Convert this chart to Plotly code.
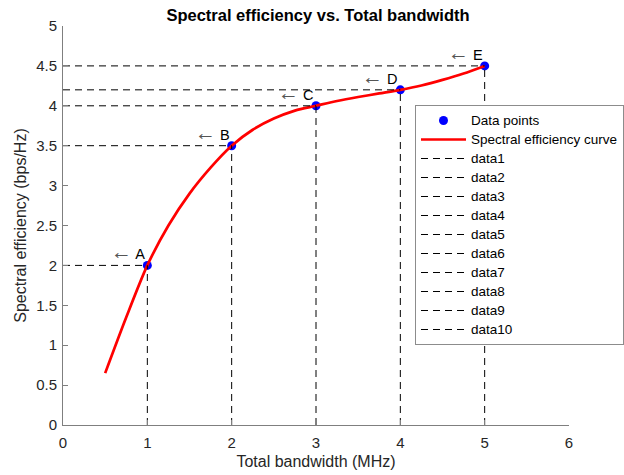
import plotly.graph_objects as go

# Data points
pt_x = [1, 2, 3, 4, 5]
pt_y = [2.0, 3.5, 4.0, 4.2, 4.5]
pt_labels = ["A", "B", "C", "D", "E"]

# Spectral efficiency curve
curve_x = [0.5, 0.75, 1.0, 1.25, 1.5, 1.75, 2.0, 2.25, 2.5, 2.75, 3.0,
           3.25, 3.5, 3.75, 4.0, 4.25, 4.5, 4.75, 5.0]
curve_y = [0.65, 1.35, 2.0, 2.5, 2.9, 3.225, 3.5, 3.7, 3.84, 3.94, 4.0,
           4.06, 4.11, 4.155, 4.2, 4.255, 4.325, 4.405, 4.5]

x_ticks = [0, 1, 2, 3, 4, 5, 6]
y_ticks = [0, 0.5, 1, 1.5, 2, 2.5, 3, 3.5, 4, 4.5, 5]

FONT = "Liberation Sans, Arial, Helvetica, sans-serif"
LEG_SIZE = 13.5


def leg(name):
    return f'<span style="font-size:{LEG_SIZE}px">{name}</span>'


fig = go.Figure()
fig.add_trace(go.Scatter(x=pt_x, y=pt_y, mode="markers", name=leg("Data points"),
                         marker=dict(color="#0000ff", size=9)))
fig.add_trace(go.Scatter(x=curve_x, y=curve_y, mode="lines",
                         name=leg("Spectral efficiency curve"),
                         line=dict(color="#ff0000", width=2.7, shape="spline", smoothing=0.8)))

k = 1
for xi, yi in zip(pt_x, pt_y):
    fig.add_trace(go.Scatter(x=[xi, xi], y=[0, yi], mode="lines", name=leg(f"data{k}"),
                             line=dict(color="black", width=1, dash="7px,5px")))
    k += 1
    fig.add_trace(go.Scatter(x=[0, xi], y=[yi, yi], mode="lines", name=leg(f"data{k}"),
                             line=dict(color="black", width=1, dash="7px,5px")))
    k += 1

for xi, yi, lab in zip(pt_x, pt_y, pt_labels):
    fig.add_annotation(x=xi, y=yi, xref="x", yref="y",
                       text='<span style="font-size:21px;color:#555">\u2190</span> ' + lab,
                       showarrow=False, xanchor="right", yanchor="bottom",
                       font=dict(family=FONT, size=14.5, color="black"))

axis_common = dict(showgrid=False, zeroline=False, showline=True, linecolor="#7f7f7f",
                   linewidth=1, ticks="inside", ticklen=5, tickcolor="#7f7f7f",
                   tickfont=dict(family=FONT, size=15, color="#262626"),
                   mirror=False, automargin=False)

fig.update_layout(
    width=624, height=475,
    margin=dict(l=63, r=55, t=26, b=50, autoexpand=False),
    paper_bgcolor="white", plot_bgcolor="white",
    title=dict(text="<b>Spectral efficiency vs. Total bandwidth</b>", x=318/624, xanchor="center",
               y=1 - 15/475, yanchor="middle",
               font=dict(family=FONT, size=16.5, color="black")),
    xaxis=dict(range=[0, 6], tickvals=x_ticks, ticklabelstandoff=4,
               title=dict(text="Total bandwidth (MHz)", standoff=5,
                          font=dict(family=FONT, size=16, color="#262626")),
               **axis_common),
    yaxis=dict(range=[0, 5], tickvals=y_ticks, ticklabelstandoff=2,
               title=dict(text="Spectral efficiency (bps/Hz)", standoff=5,
                          font=dict(family=FONT, size=16, color="#262626")),
               **axis_common),
    legend=dict(x=(415 - 63) / 506, y=(425 - 105) / 399, xanchor="left", yanchor="top",
                bgcolor="white", bordercolor="#8c8c8c", borderwidth=1,
                font=dict(family=FONT, size=12, color="black"),
                itemwidth=45, tracegroupgap=0),
    showlegend=True,
)

fig.write_html("out.html")
